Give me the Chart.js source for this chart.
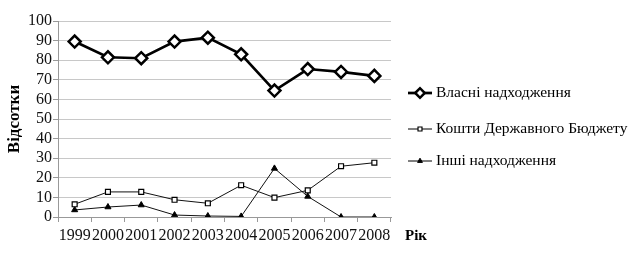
<!DOCTYPE html>
<html lang="uk">
  <head>
    <meta charset="UTF-8" />
    <title>Відсотки по роках</title>
    <script src="https://cdn.jsdelivr.net/npm/chart.js"></script>
    <style>
      body {
        margin: 0;
        background: #fff;
      }
      .wrap {
        position: relative;
        width: 642px;
        height: 253px;
      }
    </style>
  </head>
  <body>
    <div class="wrap">
      <canvas id="lineChart" width="642" height="253"></canvas>
    </div>

    <script>
      const years = ["1999", "2000", "2001", "2002", "2003", "2004", "2005", "2006", "2007", "2008"];
      const ownIncome = [89.5, 81.5, 81, 89.5, 91.5, 83, 64.5, 75.5, 74, 72];
      const stateBudget = [6.5, 12.8, 12.8, 8.8, 7, 16.2, 9.9, 13.6, 25.9, 27.7];
      const otherIncome = [3.6, 5.1, 6.1, 1, 0.5, 0.3, 24.8, 10.5, 0, 0];
      const seriesNames = ["Власні надходження", "Кошти Державного Бюджету", "Інші надходження"];
      const yTicks = [0, 10, 20, 30, 40, 50, 60, 70, 80, 90, 100];

      const serif = "'Liberation Serif', 'Times New Roman', serif";

      // legend + "Рік" drawn by hand (line with marker in the middle)
      const sideLegend = {
        id: "sideLegend",
        afterDraw(chart) {
          const ctx = chart.ctx;
          const rows = [93, 129, 161];
          ctx.save();
          chart.data.datasets.forEach((ds, i) => {
            const y = rows[i];
            const x0 = 408, x1 = 432, cx = 420;
            ctx.strokeStyle = "#000";
            ctx.lineWidth = ds.borderWidth;
            ctx.beginPath();
            ctx.moveTo(x0, y);
            ctx.lineTo(x1, y);
            ctx.stroke();
            ctx.fillStyle = ds.pointBackgroundColor;
            ctx.strokeStyle = ds.pointBorderColor;
            ctx.lineWidth = ds.pointBorderWidth;
            Chart.helpers.drawPoint(ctx, {
              pointStyle: ds.pointStyle,
              radius: ds.pointRadius * 0.8,
              borderWidth: ds.pointBorderWidth,
              rotation: 0
            }, cx, y);
            ctx.fillStyle = "#000";
            ctx.font = "15.5px " + serif;
            ctx.textBaseline = "middle";
            ctx.textAlign = "left";
            ctx.fillText(ds.label, 436, y);
          });
          ctx.font = "bold 15px " + serif;
          ctx.textBaseline = "middle";
          ctx.fillText("Рік", 405, 236);
          ctx.restore();
        }
      };

      const ctxLine = document.getElementById("lineChart").getContext("2d");
      new Chart(ctxLine, {
        type: "line",
        data: {
          labels: years,
          datasets: [
            {
              label: seriesNames[0],
              data: ownIncome,
              borderColor: "#000",
              borderWidth: 2.7,
              pointStyle: "rectRot",
              pointRadius: 6,
              pointBorderWidth: 2.5,
              pointBackgroundColor: "#fff",
              pointBorderColor: "#000",
              tension: 0
            },
            {
              label: seriesNames[1],
              data: stateBudget,
              borderColor: "#111",
              borderWidth: 1,
              pointStyle: "rect",
              pointRadius: 3.5,
              pointBorderWidth: 1.2,
              pointBackgroundColor: "#fff",
              pointBorderColor: "#000",
              tension: 0
            },
            {
              label: seriesNames[2],
              data: otherIncome,
              borderColor: "#111",
              borderWidth: 1,
              pointStyle: "triangle",
              pointRadius: 3.5,
              pointBorderWidth: 1,
              pointBackgroundColor: "#000",
              pointBorderColor: "#000",
              tension: 0
            }
          ]
        },
        options: {
          responsive: false,
          animation: false,
          layout: {
            padding: { top: 21, right: 251, bottom: 0, left: 0 }
          },
          plugins: {
            legend: { display: false },
            tooltip: { enabled: false }
          },
          scales: {
            x: {
              offset: true,
              grid: {
                offset: true,
                drawOnChartArea: false,
                drawTicks: true,
                tickLength: 5,
                color: "#999"
              },
              border: { color: "#999" },
              ticks: {
                autoSkip: false,
                maxRotation: 0,
                minRotation: 0,
                padding: 4,
                color: "#111",
                font: { family: serif, size: 16 }
              },
              afterFit(scale) {
                scale.height = 36;
              }
            },
            y: {
              min: 0,
              max: 100,
              afterBuildTicks(scale) {
                scale.ticks = yTicks.map((v) => ({ value: v }));
              },
              grid: {
                color: "#c8c8c8",
                tickLength: 5,
                tickColor: "#999"
              },
              border: { color: "#999" },
              ticks: {
                autoSkip: false,
                padding: 1,
                color: "#111",
                font: { family: serif, size: 16 }
              },
              title: {
                display: true,
                text: "Відсотки",
                color: "#000",
                font: { family: serif, size: 17, weight: "bold" },
                padding: { top: 4, bottom: 0 }
              },
              afterFit(scale) {
                scale.width = 58;
              }
            }
          }
        },
        plugins: [sideLegend]
      });
    </script>
  </body>
</html>
